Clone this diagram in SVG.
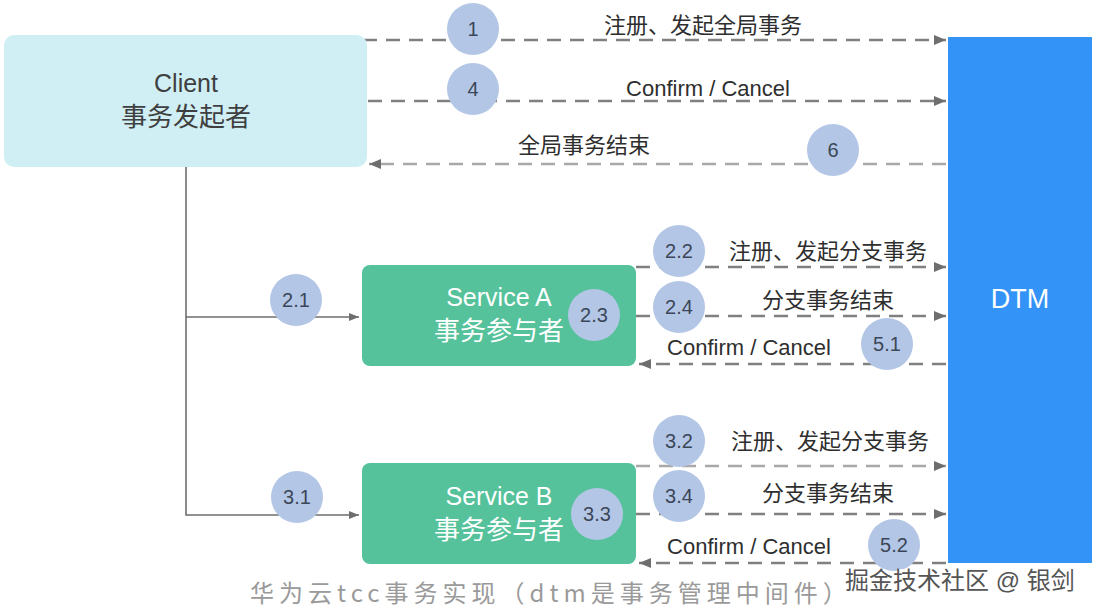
<svg xmlns="http://www.w3.org/2000/svg" width="1099" height="615" viewBox="0 0 1099 615">
<defs>
<marker id="ah" markerUnits="userSpaceOnUse" markerWidth="14" markerHeight="12" refX="12" refY="6" orient="auto">
<path d="M0,1 L12,6 L0,11 Z" fill="#6e6e6e"/>
</marker>
<marker id="ahs" markerUnits="userSpaceOnUse" markerWidth="12" markerHeight="10" refX="10" refY="5" orient="auto">
<path d="M0,1 L10,5 L0,9 Z" fill="#6e6e6e"/>
</marker>
<style>
.dash{stroke:#808080;stroke-width:2.5;stroke-dasharray:14 9;fill:none}
.dashl{stroke:#a8a8a8;stroke-width:2.5;stroke-dasharray:14 9;fill:none}
.solid{stroke:#6e6e6e;stroke-width:1.6;fill:none}
.num circle{fill:#b3c6e6}
.num text{font-family:"Liberation Sans",Arial,sans-serif;font-size:20px;fill:#3b4658;text-anchor:middle}
.lbl{font-family:"Liberation Sans","Noto Sans CJK SC",sans-serif;font-size:22px;fill:#2e2e2e;text-anchor:middle}
.nt{font-family:"Liberation Sans","Noto Sans CJK SC",sans-serif;text-anchor:middle}
</style>
</defs>
<rect width="1099" height="615" fill="#ffffff"/>

<g id="connectors">
<line class="dash" x1="363" y1="40" x2="946" y2="40" marker-end="url(#ah)"/>
<line class="dash" x1="368" y1="101" x2="946" y2="101" marker-end="url(#ah)"/>
<line class="dashl" x1="946" y1="164" x2="369" y2="164" marker-end="url(#ah)"/>
<polyline class="solid" points="186,167 186,515 359,515" marker-end="url(#ahs)"/>
<line class="solid" x1="186" y1="317" x2="359" y2="317" marker-end="url(#ahs)"/>
<line class="dash" x1="636" y1="267" x2="946" y2="267" marker-end="url(#ah)"/>
<line class="dash" x1="636" y1="316" x2="946" y2="316" marker-end="url(#ah)"/>
<line class="dash" x1="946" y1="364" x2="639" y2="364" marker-end="url(#ah)"/>
<line class="dashl" x1="636" y1="466" x2="946" y2="466" marker-end="url(#ah)"/>
<line class="dash" x1="636" y1="514" x2="946" y2="514" marker-end="url(#ah)"/>
<line class="dash" x1="946" y1="563" x2="639" y2="563" marker-end="url(#ah)"/>
</g>

<g id="client">
<rect x="4" y="35" width="363" height="132" rx="10" fill="#d0eff5"/>
<text class="nt" x="186" y="92" font-size="25" fill="#3f3f3f">Client</text>
<text class="nt" x="186" y="126" font-size="26" fill="#3f3f3f">事务发起者</text>
</g>

<g id="dtm">
<rect x="948" y="37" width="144" height="526" fill="#3393f7"/>
<text class="nt" x="1020" y="308" font-size="27" fill="#ffffff">DTM</text>
</g>

<g id="serviceA">
<rect x="362" y="265" width="274" height="101" rx="8" fill="#55c29b"/>
<text class="nt" x="499" y="306" font-size="25" fill="#ffffff">Service A</text>
<text class="nt" x="499" y="340" font-size="26" fill="#ffffff">事务参与者</text>
</g>

<g id="serviceB">
<rect x="362" y="463" width="274" height="101" rx="8" fill="#55c29b"/>
<text class="nt" x="499" y="505" font-size="25" fill="#ffffff">Service B</text>
<text class="nt" x="499" y="539" font-size="26" fill="#ffffff">事务参与者</text>
</g>

<g id="labels">
<text class="lbl" x="703" y="33">注册、发起全局事务</text>
<text class="lbl" x="708" y="96">Confirm / Cancel</text>
<text class="lbl" x="584" y="153">全局事务结束</text>
<text class="lbl" x="828" y="259">注册、发起分支事务</text>
<text class="lbl" x="828" y="308">分支事务结束</text>
<text class="lbl" x="749" y="355">Confirm / Cancel</text>
<text class="lbl" x="830" y="449">注册、发起分支事务</text>
<text class="lbl" x="828" y="501">分支事务结束</text>
<text class="lbl" x="749" y="554">Confirm / Cancel</text>
</g>

<g id="steps" class="num">
<g id="s1"><circle cx="473" cy="29" r="26"/><text x="473" y="36">1</text></g>
<g id="s4"><circle cx="473" cy="89" r="26"/><text x="473" y="96">4</text></g>
<g id="s6"><circle cx="833" cy="150" r="26"/><text x="833" y="157">6</text></g>
<g id="s21"><circle cx="296" cy="300" r="26"/><text x="296" y="307">2.1</text></g>
<g id="s22"><circle cx="679" cy="251" r="26"/><text x="679" y="258">2.2</text></g>
<g id="s23"><circle cx="594" cy="315" r="26"/><text x="594" y="322">2.3</text></g>
<g id="s24"><circle cx="679" cy="307" r="26"/><text x="679" y="314">2.4</text></g>
<g id="s51"><circle cx="887" cy="344" r="26"/><text x="887" y="351">5.1</text></g>
<g id="s31"><circle cx="297" cy="497" r="26"/><text x="297" y="504">3.1</text></g>
<g id="s32"><circle cx="679" cy="441" r="26"/><text x="679" y="448">3.2</text></g>
<g id="s33"><circle cx="597" cy="514" r="26"/><text x="597" y="521">3.3</text></g>
<g id="s34"><circle cx="679" cy="496" r="26"/><text x="679" y="503">3.4</text></g>
<g id="s52"><circle cx="894" cy="545" r="26"/><text x="894" y="552">5.2</text></g>
</g>

<g id="watermark">
<text x="250" y="602" font-family="'Noto Sans CJK SC',sans-serif" font-size="24" letter-spacing="5" fill="#9a9a9a">华为云tcc事务实现（dtm是事务管理中间件）</text>
<text x="847" y="591" font-family="'Liberation Sans','Noto Sans CJK SC',sans-serif" font-size="24" fill="#ffffff" stroke="#ffffff" stroke-width="3">掘金技术社区 @ 银剑</text>
<text x="845" y="589" font-family="'Liberation Sans','Noto Sans CJK SC',sans-serif" font-size="24" fill="#555555">掘金技术社区 @ 银剑</text>
</g>
</svg>
